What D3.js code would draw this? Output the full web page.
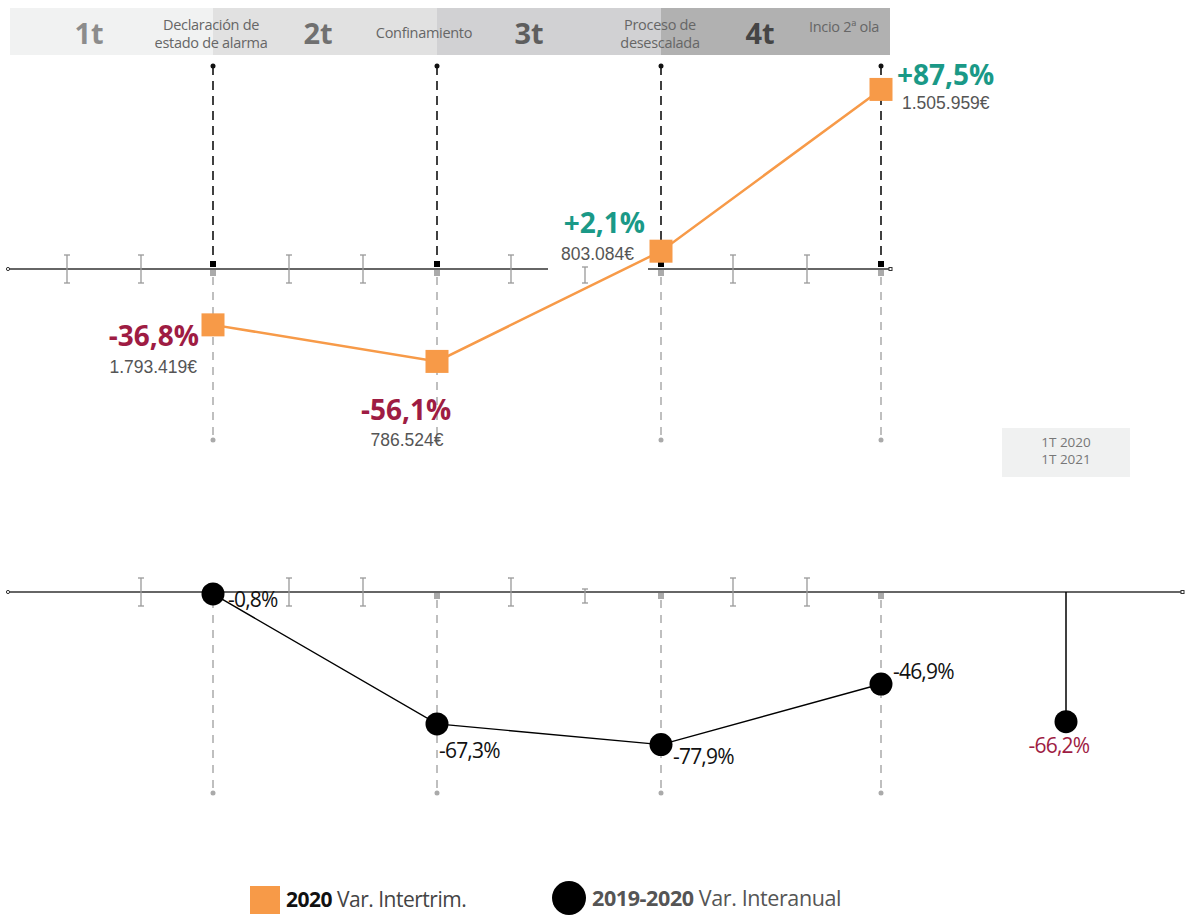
<!DOCTYPE html>
<html><head><meta charset="utf-8">
<script src="https://cdn.jsdelivr.net/npm/d3@7/dist/d3.min.js"></script>
<style>body{margin:0;background:#fff}svg{display:block}</style>
</head><body>
<script>
// ---- data ----
const quarters = ["1t", "2t", "3t", "4t"];
const events = [["Declaración de", "estado de alarma"], ["Confinamiento"], ["Proceso de", "desescalada"], ["Incio 2ª ola"]];
const intertrim = [-36.8, -56.1, 2.1, 87.5];
const intertrimLabels = ["-36,8%", "-56,1%", "+2,1%", "+87,5%"];
const intertrimEuros = ["1.793.419€", "786.524€", "803.084€", "1.505.959€"];
const interanual = [-0.8, -67.3, -77.9, -46.9];
const interanualLabels = ["-0,8%", "-67,3%", "-77,9%", "-46,9%"];
const firstQ = ["1T 2020", "1T 2021"];
const firstQValue = [-66.2];
const firstQLabel = ["-66,2%"];
const legendLabels = [["2020", " Var. Intertrim."], ["2019-2020", " Var. Interanual"]];
const months = d3.range(12);

// ---- layout ----
const W = 1192, H = 915;
const svg = d3.select("body").append("svg").attr("width", W).attr("height", H);
const x = d3.scaleLinear().domain([0, 11]).range([67, 881]);
const qIdx = [2, 5, 8, 11];
const qx = i => x(qIdx[i]) + [-2, 0, 2, 0][i];
const yTop = d3.scaleLinear().domain([-60, 90]).range([368.8, 84.7]);
const yBot = d3.scaleLinear().domain([-80, 0]).range([748.7, 592.4]);
const axisTop = 269, axisBot = 592;
const orange = "#f79a48", red = "#9e1c43", teal = "#1a9987";
const font = "'Open Sans', 'Noto Sans', sans-serif";
const numFont = "'Liberation Sans', Arial, sans-serif";

// header band
const bandEdges = [10, qx(0), qx(1), qx(2), 890];
const bandColors = ["#f1f2f2", "#e1e1e1", "#d1d1d3", "#b1b1b1"];
const qColors = ["#8c8c8c", "#707070", "#5e5e5e", "#454545"];
quarters.forEach((q, i) => {
  svg.append("rect").attr("x", bandEdges[i]).attr("y", 8).attr("width", bandEdges[i + 1] - bandEdges[i]).attr("height", 47).attr("fill", bandColors[i]);
});
const qLabelX = [89, 318, 529, 760];
quarters.forEach((q, i) => {
  svg.append("text").attr("x", qLabelX[i]).attr("y", 44).attr("text-anchor", "middle")
    .attr("font-family", font).attr("font-weight", 700).attr("font-size", 29).attr("fill", qColors[i]).text(q);
});
const evX = [211, 424, 660, 844];
events.forEach((ev, i) => {
  const base = ev.length === 2 ? 30 : 38;
  ev.forEach((line, j) => {
    svg.append("text").attr("x", evX[i]).attr("y", (i === 3 ? 32 : base) + j * 17.5).attr("text-anchor", "middle")
      .attr("font-family", font).attr("font-size", 14.5).attr("fill", "#666").attr("letter-spacing", -0.3).text(line);
  });
});

// vertical guides
quarters.forEach((q, i) => {
  const cx = qx(i);
  svg.append("line").attr("x1", cx).attr("x2", cx).attr("y1", 66).attr("y2", 262).attr("stroke", "#111").attr("stroke-width", 1.6).attr("stroke-dasharray", "9,6");
  svg.append("circle").attr("cx", cx).attr("cy", 66).attr("r", 2.5).attr("fill", "#111");
  svg.append("line").attr("x1", cx).attr("x2", cx).attr("y1", 277).attr("y2", 440).attr("stroke", "#aaa").attr("stroke-width", 1.5).attr("stroke-dasharray", "8,7");
  svg.append("circle").attr("cx", cx).attr("cy", 440).attr("r", 2.5).attr("fill", "#aaa");
  svg.append("line").attr("x1", cx).attr("x2", cx).attr("y1", 600).attr("y2", 793).attr("stroke", "#aaa").attr("stroke-width", 1.5).attr("stroke-dasharray", "8,7");
  svg.append("circle").attr("cx", cx).attr("cy", 793).attr("r", 2.5).attr("fill", "#aaa");
});

function ibeam(cx, cy, h) {
  const g = svg.append("g").attr("stroke", "#999").attr("stroke-width", 1.3);
  g.append("line").attr("x1", cx).attr("x2", cx).attr("y1", cy - h).attr("y2", cy + h);
  g.append("line").attr("x1", cx - 3).attr("x2", cx + 3).attr("y1", cy - h).attr("y2", cy - h);
  g.append("line").attr("x1", cx - 3).attr("x2", cx + 3).attr("y1", cy + h).attr("y2", cy + h);
}

// top axis
svg.append("line").attr("x1", 8).attr("x2", 548).attr("y1", axisTop).attr("y2", axisTop).attr("stroke", "#333").attr("stroke-width", 1.3);
svg.append("line").attr("x1", 648).attr("x2", 890).attr("y1", axisTop).attr("y2", axisTop).attr("stroke", "#333").attr("stroke-width", 1.3);
svg.append("circle").attr("cx", 8).attr("cy", axisTop).attr("r", 1.6).attr("fill", "#fff").attr("stroke", "#333").attr("stroke-width", 1);
svg.append("rect").attr("x", 889).attr("y", axisTop - 1.5).attr("width", 3).attr("height", 3).attr("fill", "#fff").attr("stroke", "#333").attr("stroke-width", 1);
months.forEach(m => {
  if (qIdx.includes(m)) return;
  if (m === 7) ibeam(x(m), axisTop + 6, 8); else ibeam(x(m), axisTop, 14);
});
quarters.forEach((q, i) => {
  svg.append("rect").attr("x", qx(i) - 3).attr("y", axisTop - 8).attr("width", 6).attr("height", 6).attr("fill", "#000");
  svg.append("rect").attr("x", qx(i) - 3).attr("y", axisTop + 1).attr("width", 6).attr("height", 6).attr("fill", "#aaa");
});

// bottom axis
svg.append("line").attr("x1", 8).attr("x2", 1183).attr("y1", axisBot).attr("y2", axisBot).attr("stroke", "#333").attr("stroke-width", 1.3);
svg.append("circle").attr("cx", 8).attr("cy", axisBot).attr("r", 1.6).attr("fill", "#fff").attr("stroke", "#333").attr("stroke-width", 1);
svg.append("rect").attr("x", 1181).attr("y", axisBot - 1.5).attr("width", 3).attr("height", 3).attr("fill", "#fff").attr("stroke", "#333").attr("stroke-width", 1);
months.forEach(m => {
  if (qIdx.includes(m) || m === 0) return;
  if (m === 7) ibeam(x(m), axisBot + 4, 7); else ibeam(x(m), axisBot, 14);
});
quarters.forEach((q, i) => {
  if (i === 0) return;
  svg.append("rect").attr("x", qx(i) - 3).attr("y", axisBot + 1).attr("width", 6).attr("height", 6).attr("fill", "#aaa");
});

// top series
const lineTop = d3.line().x((d, i) => qx(i)).y(d => yTop(d));
svg.append("path").datum(intertrim).attr("d", lineTop).attr("fill", "none").attr("stroke", orange).attr("stroke-width", 2.5);
intertrim.forEach((v, i) => {
  svg.append("rect").attr("x", qx(i) - 11.5).attr("y", yTop(v) - 11.5).attr("width", 23).attr("height", 23).attr("fill", orange);
});
const pctPos = [[199, 21, "end"], [406, 59, "middle"], [645, -18, "end"], [897, -4, "start"]];
const eurPos = [[197, 48, "end"], [407, 85, "middle"], [634, 9, "end"], [902, 20, "start"]];
intertrim.forEach((v, i) => {
  const c = v < 0 ? red : teal;
  svg.append("text").attr("x", pctPos[i][0]).attr("y", yTop(v) + pctPos[i][1]).attr("text-anchor", pctPos[i][2])
    .attr("font-family", font).attr("font-weight", 700).attr("font-size", 28).attr("fill", c).text(intertrimLabels[i]);
  svg.append("text").attr("x", eurPos[i][0]).attr("y", yTop(v) + eurPos[i][1]).attr("text-anchor", eurPos[i][2])
    .attr("font-family", numFont).attr("font-size", 17.5).attr("fill", "#555").text(intertrimEuros[i]);
});

// bottom series
const lineBot = d3.line().x((d, i) => qx(i)).y(d => yBot(d));
svg.append("path").datum(interanual).attr("d", lineBot).attr("fill", "none").attr("stroke", "#000").attr("stroke-width", 1.4);
interanual.forEach((v, i) => {
  svg.append("circle").attr("cx", qx(i)).attr("cy", yBot(v)).attr("r", 11.5).attr("fill", "#000");
});
const botPos = [[15, 13], [2, 34], [12, 19], [12, -5]];
interanual.forEach((v, i) => {
  svg.append("text").attr("x", qx(i) + botPos[i][0]).attr("y", yBot(v) + botPos[i][1])
    .attr("font-family", font).attr("font-size", 21).attr("fill", "#111").attr("letter-spacing", -0.8).text(interanualLabels[i]);
});

// first quarter 2020 vs 2021
const fx = x(13.5);
svg.append("rect").attr("x", fx - 64).attr("y", 428).attr("width", 128).attr("height", 49).attr("fill", "#f0f1f1");
firstQ.forEach((t, j) => {
  svg.append("text").attr("x", fx).attr("y", 447 + j * 17).attr("text-anchor", "middle")
    .attr("font-family", font).attr("font-size", 13.5).attr("fill", "#777").text(t);
});
svg.append("line").attr("x1", fx).attr("x2", fx).attr("y1", axisBot).attr("y2", yBot(firstQValue[0])).attr("stroke", "#000").attr("stroke-width", 1.5);
svg.append("circle").attr("cx", fx).attr("cy", yBot(firstQValue[0])).attr("r", 11.5).attr("fill", "#000");
svg.append("text").attr("x", fx - 7).attr("y", yBot(firstQValue[0]) + 31).attr("text-anchor", "middle")
  .attr("font-family", font).attr("font-size", 21).attr("fill", red).attr("letter-spacing", -0.8).text(firstQLabel[0]);

// legend
svg.append("rect").attr("x", 250).attr("y", 886).attr("width", 30).attr("height", 28).attr("fill", orange);
const l1 = svg.append("text").attr("x", 286).attr("y", 907).attr("font-family", font).attr("font-size", 21).attr("letter-spacing", -0.5);
l1.append("tspan").attr("font-weight", 700).attr("fill", "#111").text(legendLabels[0][0]);
l1.append("tspan").attr("fill", "#444").text(legendLabels[0][1]);
svg.append("circle").attr("cx", 569).attr("cy", 898).attr("r", 17).attr("fill", "#000");
const l2 = svg.append("text").attr("x", 592).attr("y", 906).attr("font-family", font).attr("font-size", 21.5).attr("letter-spacing", -0.4);
l2.append("tspan").attr("font-weight", 700).attr("fill", "#555").text(legendLabels[1][0]);
l2.append("tspan").attr("fill", "#555").text(legendLabels[1][1]);
</script>
</body></html>
